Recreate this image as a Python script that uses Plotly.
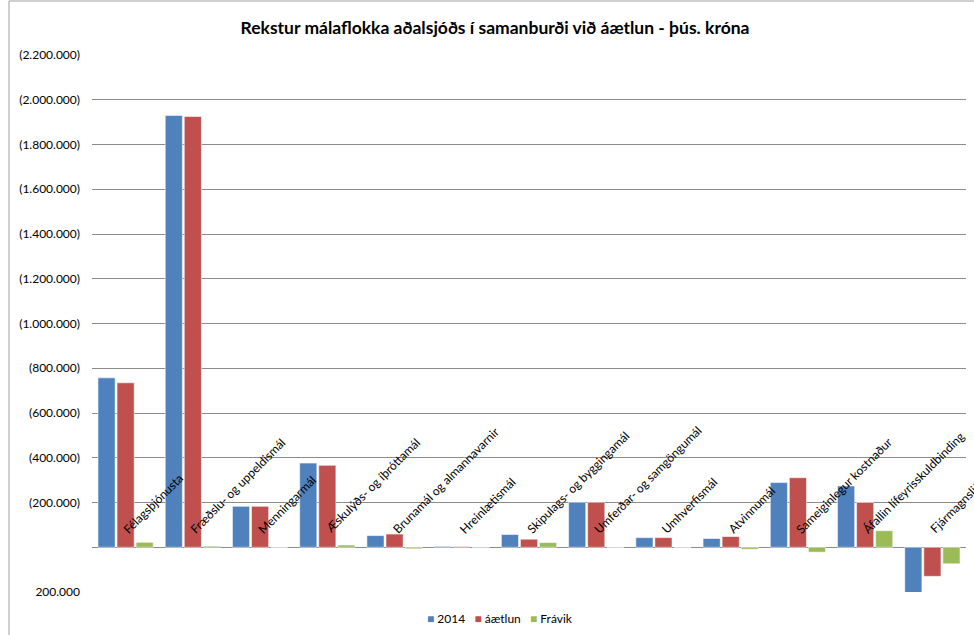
import plotly.graph_objects as go

categories = [
    "Félagsþjónusta",
    "Fræðslu- og uppeldismál",
    "Menningarmál",
    "Æskulýðs- og íþróttamál",
    "Brunamál og almannavarnir",
    "Hreinlætismál",
    "Skipulags- og byggingamál",
    "Umferðar- og samgöngumál",
    "Umhverfismál",
    "Atvinnumál",
    "Sameiginlegur kostnaður",
    "Áfallin lífeyrisskuldbinding",
    "Fjármagnsliðir",
]

vals_2014 = [-757000, -1930000, -183000, -376000, -52000, -4000, -57000,
             -201000, -43000, -39000, -289000, -274000, 204000]
vals_aaetlun = [-735000, -1925000, -183000, -366000, -59000, -3000, -36000,
                -201000, -43000, -48000, -311000, -200000, 130000]
vals_fravik = [-22000, -5000, 0, -10000, 7000, -1000, -21000,
               0, 0, 9000, 22000, -74000, 74000]

series_names = ["2014", "áætlun", "Frávik"]
series_colors = ["#4F81BD", "#C0504D", "#9BBB59"]

tick_vals = [-2200000, -2000000, -1800000, -1600000, -1400000, -1200000,
             -1000000, -800000, -600000, -400000, -200000, 0, 200000]
tick_text = ["(2.200.000)", "(2.000.000)", "(1.800.000)", "(1.600.000)",
             "(1.400.000)", "(1.200.000)", "(1.000.000)", "(800.000)",
             "(600.000)", "(400.000)", "(200.000)", "", "200.000"]

FONT = "Lato, Carlito, Calibri, sans-serif"

fig = go.Figure()
for name, vals, col in zip(series_names, [vals_2014, vals_aaetlun, vals_fravik], series_colors):
    fig.add_trace(go.Bar(
        x=categories, y=vals, name=name,
        marker=dict(color=col, line=dict(color="rgba(255,255,255,0.55)", width=1)),
        showlegend=False,
    ))

annotations = []
for c in categories:
    annotations.append(dict(
        x=c, y=0, xref="x", yref="y", text=c, showarrow=False,
        textangle=-45, xanchor="left", yanchor="bottom",
        xshift=-8, yshift=8,
        font=dict(family=FONT, size=12, color="#000000"),
    ))

L, R, T, B = 92, 8, 55, 43
W, H = 974, 635
pw = W - L - R
ph = H - T - B

# legend built as text with coloured square markers
legend_text = "   ".join(
    f'<span style="color:{col}">■</span> {name}'
    for name, col in zip(series_names, series_colors)
)
annotations.append(dict(
    x=(500 - L) / pw, xref="paper", xanchor="center",
    y=-(618 - (T + ph)) / ph, yref="paper", yanchor="middle",
    text=legend_text, showarrow=False,
    font=dict(family=FONT, size=12, color="#000000"),
))

fig.update_layout(
    width=W, height=H,
    margin=dict(l=L, r=R, t=T, b=B, autoexpand=False),
    paper_bgcolor="white", plot_bgcolor="white",
    barmode="group", bargap=0.15, bargroupgap=0.1,
    title=dict(
        text="<b>Rekstur málaflokka aðalsjóðs í samanburði við áætlun - þús. króna</b>",
        x=(495 - L) / pw, xref="paper", xanchor="center",
        y=1 - 28 / H, yanchor="middle",
        font=dict(family=FONT, size=17.5, color="#000000"),
    ),
    font=dict(family=FONT, size=12, color="#000000"),
    xaxis=dict(showticklabels=False, showgrid=False, showline=False, ticks="",
               range=[-0.5, len(categories) - 0.5], autorange=False),
    yaxis=dict(
        range=[200000, -2200000],
        tickvals=tick_vals, ticktext=tick_text,
        showgrid=True, gridcolor="#8c8c8c", gridwidth=1,
        zeroline=True, zerolinecolor="#8c8c8c", zerolinewidth=1,
        showline=False, ticks="", ticklabelstandoff=11,
        tickfont=dict(family=FONT, size=12, color="#000000"),
    ),
    showlegend=False,
    annotations=annotations,
    shapes=[dict(
        type="rect", xref="paper", yref="paper",
        x0=(9 - L) / pw, x1=(990 - L) / pw,
        y0=-(650 - (T + ph)) / ph, y1=(T + ph - 1) / ph,
        line=dict(color="#a0a0a0", width=1), fillcolor="rgba(0,0,0,0)",
        layer="below",
    )],
)

fig.write_html("out.html")
